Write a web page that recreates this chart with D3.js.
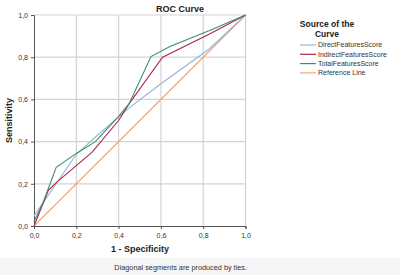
<!DOCTYPE html>
<html>
<head>
<meta charset="utf-8">
<script src="https://cdn.jsdelivr.net/npm/d3@7"></script>
<style>
  body { margin: 0; background: #fff; }
  svg { display: block; }
  text { font-family: "Liberation Sans", Arial, sans-serif; }
</style>
</head>
<body>
<svg width="400" height="275"></svg>
<script>
const seriesNames = ['DirectFeaturesScore', 'IndirectFeaturesScore', 'TotalFeaturesScore', 'Reference Line'];
const seriesColors = ['#92b6dc', '#b0244e', '#3e8e68', '#f2a579'];

// [1 - specificity, sensitivity]
const directPoints = [[0, 0.047], [0.2, 0.34], [0.3, 0.43], [0.45, 0.56], [0.6, 0.674], [0.83, 0.84], [1, 1]];
const indirectPoints = [[0, 0], [0.068, 0.169], [0.108, 0.208], [0.2, 0.286], [0.275, 0.35], [0.4, 0.5], [0.45, 0.58], [0.608, 0.8], [0.83, 0.91], [1, 1]];
const totalPoints = [[0, 0.02], [0.044, 0.114], [0.105, 0.278], [0.2, 0.344], [0.29, 0.4], [0.4, 0.52], [0.45, 0.58], [0.553, 0.803], [0.64, 0.85], [0.83, 0.926], [1, 1]];
const referencePoints = [[0, 0], [1, 1]];
const tickValues = [0, 0.2, 0.4, 0.6, 0.8, 1.0];

const svg = d3.select('svg');

const margin = { top: 15, left: 34 };
const innerWidth = 211.5;
const innerHeight = 211;

const xScale = d3.scaleLinear().domain([0, 1]).range([0, innerWidth]);
const yScale = d3.scaleLinear().domain([0, 1]).range([innerHeight, 0]);
const fmt = d => d3.format('.1f')(d).replace('.', ',');

// light band at the bottom
svg.append('rect')
    .attr('x', 0).attr('y', 258).attr('width', 400).attr('height', 17)
    .attr('fill', '#f5f5f5');

const g = svg.append('g')
    .attr('transform', `translate(${margin.left}, ${margin.top})`);

// GRID
g.append('g').selectAll('line')
    .data(tickValues.slice(1))
    .join('line')
    .attr('x1', d => xScale(d)).attr('x2', d => xScale(d))
    .attr('y1', 0).attr('y2', innerHeight)
    .attr('stroke', '#d4d4d4').attr('stroke-width', 1.2);
g.append('g').selectAll('line')
    .data(tickValues.slice(1))
    .join('line')
    .attr('x1', 0).attr('x2', innerWidth)
    .attr('y1', d => yScale(d)).attr('y2', d => yScale(d))
    .attr('stroke', '#d4d4d4').attr('stroke-width', 1.2);

// AXES
const xAxis = d3.axisBottom(xScale).tickValues(tickValues).tickFormat(fmt).tickSize(3);
const yAxis = d3.axisLeft(yScale).tickValues(tickValues).tickFormat(fmt).tickSize(3);

const xg = g.append('g')
    .attr('transform', `translate(0, ${innerHeight})`)
    .call(xAxis);
const yg = g.append('g').call(yAxis);

[xg, yg].forEach(a => {
    a.attr('font-family', null).attr('font-size', 7);
    a.select('.domain').attr('stroke', '#555');
    a.selectAll('.tick line').attr('stroke', '#555');
    a.selectAll('.tick text').attr('fill', '#333');
});
xg.selectAll('.tick text').attr('dy', '0.9em');

// LINES
const line = d3.line()
    .x(d => xScale(d[0]))
    .y(d => yScale(d[1]));

const allSeries = [directPoints, indirectPoints, totalPoints, referencePoints];
const order = [3, 0, 1, 2];
order.forEach(i => {
    g.append('path')
        .datum(allSeries[i])
        .attr('d', line)
        .attr('fill', 'none')
        .attr('stroke', seriesColors[i])
        .attr('stroke-width', 1.1);
});

// TITLES
svg.append('text')
    .attr('x', 180).attr('y', 12)
    .attr('text-anchor', 'middle')
    .attr('font-size', 9).attr('font-weight', 'bold')
    .attr('fill', '#222')
    .text('ROC Curve');

svg.append('text')
    .attr('transform', `translate(12, ${margin.top + innerHeight / 2}) rotate(-90)`)
    .attr('text-anchor', 'middle')
    .attr('font-size', 9).attr('font-weight', 'bold')
    .attr('fill', '#222')
    .text('Sensitivity');

svg.append('text')
    .attr('x', 140).attr('y', 252)
    .attr('text-anchor', 'middle')
    .attr('font-size', 9).attr('font-weight', 'bold')
    .attr('fill', '#222')
    .text('1 - Specificity');

svg.append('text')
    .attr('x', 247).attr('y', 270)
    .attr('text-anchor', 'end')
    .attr('font-size', 7.3).attr('fill', '#333')
    .text('Diagonal segments are produced by ties.');

// LEGEND
const legend = svg.append('g');
legend.append('text')
    .attr('x', 327).attr('y', 27)
    .attr('text-anchor', 'middle')
    .attr('font-size', 8.5).attr('font-weight', 'bold').attr('fill', '#222')
    .text('Source of the');
legend.append('text')
    .attr('x', 327).attr('y', 37)
    .attr('text-anchor', 'middle')
    .attr('font-size', 8.5).attr('font-weight', 'bold').attr('fill', '#222')
    .text('Curve');

const items = legend.selectAll('g.item')
    .data(seriesNames)
    .join('g')
    .attr('class', 'item')
    .attr('transform', (d, i) => `translate(300, ${45 + i * 9.3})`);
items.append('line')
    .attr('x1', 0).attr('x2', 16)
    .attr('stroke', (d, i) => seriesColors[i]).attr('stroke-width', 1.2);
items.append('text')
    .attr('x', 18).attr('dy', '0.35em')
    .attr('font-size', 7).attr('fill', '#333')
    .text(d => d);
</script>
</body>
</html>
